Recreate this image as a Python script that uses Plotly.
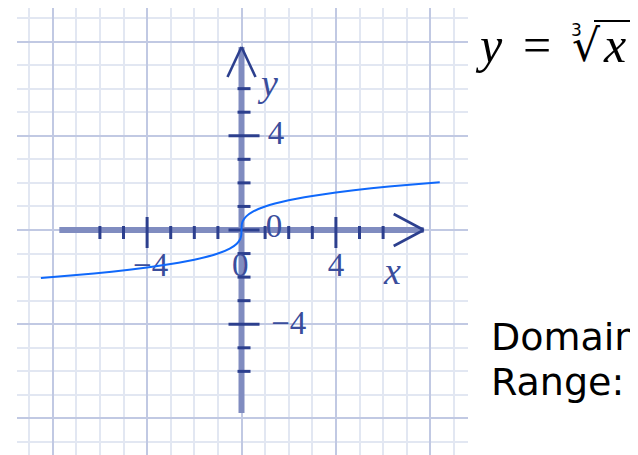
import plotly.graph_objects as go

# ---- data (y = cube root of x) ----
curve_x = [-8.5, -7.0, -5.5, -4.0, -3.0, -2.0, -1.0, -0.5, -0.2, -0.05, -0.01, 0.0,
           0.01, 0.05, 0.2, 0.5, 1.0, 2.0, 3.0, 4.0, 5.5, 7.0, 8.4]
curve_y = [-2.04, -1.91, -1.77, -1.59, -1.44, -1.26, -1.0, -0.79, -0.58, -0.37, -0.22, 0.0,
           0.22, 0.37, 0.58, 0.79, 1.0, 1.26, 1.44, 1.59, 1.77, 1.91, 2.03]

x_minor_ticks = [-6, -5, -3, -2, -1, 1, 2, 3, 5, 6]
x_major_ticks = [-4, 4]
y_minor_ticks = [-6, -5, -3, -2, -1, 1, 2, 3, 5, 6]
y_major_ticks = [-4, 0, 4]

# tick label texts (drawn beneath the curve, as in the picture)
tick_label_text = ["4", "−4", "0", "0", "4", "−4"]
tick_label_x = [1.46, 2.0, 1.38, -0.05, 4.0, -3.85]
tick_label_y = [4.0, -4.05, 0.05, -1.62, -1.62, -1.62]

side_texts = ["Domain:", "Range:"]

# ---- layout constants (page body has an 8px margin) ----
OFF = 8
W, H = 630, 447
L, R, T, B = 9, 170, 0, 0
PW, PH = W - L - R, H - T - B
XR = [-9.513, 9.597]
YR = [-9.55, 9.423]
AX_END = 7.72

MINOR_GRID = "rgb(226,231,242)"
MAJOR_GRID = "rgb(193,201,227)"
AXIS_COL = "#808cc0"
TICK_COL = "#2c3f8e"
LABEL_COL = "#3a4d9c"


def px_x(sx):
    return (sx - OFF - L) / PW


def px_y(sy):
    return (H + OFF - B - sy) / PH


fig = go.Figure()
fig.add_trace(go.Scatter(x=tick_label_x, y=tick_label_y, mode="text", text=tick_label_text,
                         textposition="middle center",
                         textfont=dict(family="Liberation Serif, serif", size=33, color=LABEL_COL),
                         hoverinfo="skip", showlegend=False))
fig.add_trace(go.Scatter(x=curve_x, y=curve_y, mode="lines",
                         line=dict(color="#0f68fb", width=2, shape="spline", smoothing=0.6),
                         hoverinfo="skip", showlegend=False))

shapes = []
# axes
shapes.append(dict(type="line", xref="x", yref="y", x0=-AX_END, x1=AX_END, y0=0, y1=0,
                   line=dict(color=AXIS_COL, width=6), layer="between"))
shapes.append(dict(type="line", xref="x", yref="y", x0=0, x1=0, y0=-AX_END - 0.05, y1=AX_END + 0.05,
                   line=dict(color=AXIS_COL, width=6), layer="between"))

# ticks (pixel-sized, anchored to axis values)
for t in x_minor_ticks:
    shapes.append(dict(type="line", xref="x", yref="y", x0=t, x1=t, ysizemode="pixel", yanchor=0,
                       y0=4, y1=-9, line=dict(color=TICK_COL, width=3), layer="between"))
for t in x_major_ticks:
    shapes.append(dict(type="line", xref="x", yref="y", x0=t, x1=t, ysizemode="pixel", yanchor=0,
                       y0=13, y1=-18, line=dict(color=TICK_COL, width=3), layer="between"))
for t in y_minor_ticks:
    shapes.append(dict(type="line", xref="x", yref="y", y0=t, y1=t, xsizemode="pixel", xanchor=0,
                       x0=-4, x1=9, line=dict(color=TICK_COL, width=3), layer="between"))
for t in y_major_ticks:
    shapes.append(dict(type="line", xref="x", yref="y", y0=t, y1=t, xsizemode="pixel", xanchor=0,
                       x0=-13, x1=18, line=dict(color=TICK_COL, width=3), layer="between"))

# arrowheads
for dy in (16, -16):
    shapes.append(dict(type="line", xref="x", yref="y", xsizemode="pixel", ysizemode="pixel",
                       xanchor=AX_END, yanchor=0, x0=0, y0=0, x1=-30, y1=dy,
                       line=dict(color=TICK_COL, width=2.6), layer="between"))
for dx in (14, -14):
    shapes.append(dict(type="line", xref="x", yref="y", xsizemode="pixel", ysizemode="pixel",
                       xanchor=0, yanchor=AX_END + 0.05, x0=0, y0=0, x1=dx, y1=-30,
                       line=dict(color=TICK_COL, width=2.6), layer="between"))

# vinculum of the radical
shapes.append(dict(type="line", xref="paper", yref="paper", x0=px_x(594), x1=px_x(632),
                   y0=px_y(21), y1=px_y(21), line=dict(color="black", width=2.2)))

ann = []
ital_font = dict(family="Liberation Serif, serif", size=38, color=LABEL_COL)
ann.append(dict(x=6.38, y=-1.72, text="<i>x</i>", xref="x", yref="y", showarrow=False, font=ital_font))
ann.append(dict(x=1.12, y=6.25, text="<i>y</i>", xref="x", yref="y", showarrow=False, font=ital_font))

# formula y = cube-root(x), assembled from text pieces
f_font = dict(family="Liberation Serif, serif", size=50, color="black")
ann.append(dict(x=px_x(489), y=px_y(45), xref="paper", yref="paper", text="<i>y</i>",
                showarrow=False, xanchor="center", yanchor="middle", font=f_font))
ann.append(dict(x=px_x(537), y=px_y(45), xref="paper", yref="paper", text="=",
                showarrow=False, xanchor="center", yanchor="middle", font=f_font))
ann.append(dict(x=px_x(586), y=px_y(45), xref="paper", yref="paper", text="√",
                showarrow=False, xanchor="center", yanchor="middle",
                font=dict(family="DejaVu Serif, serif", size=44, color="black")))
ann.append(dict(x=px_x(576), y=px_y(30), xref="paper", yref="paper", text="3",
                showarrow=False, xanchor="center", yanchor="middle",
                font=dict(family="DejaVu Sans, sans-serif", size=17, color="black")))
ann.append(dict(x=px_x(614), y=px_y(45), xref="paper", yref="paper", text="<i>x</i>",
                showarrow=False, xanchor="center", yanchor="middle", font=f_font))

side_font = dict(family="DejaVu Sans, sans-serif", size=38, color="black")
ann.append(dict(x=px_x(489), y=px_y(337), xref="paper", yref="paper", text=side_texts[0],
                showarrow=False, xanchor="left", yanchor="middle", font=side_font))
ann.append(dict(x=px_x(489), y=px_y(382), xref="paper", yref="paper", text=side_texts[1],
                showarrow=False, xanchor="left", yanchor="middle", font=side_font))

axis_common = dict(showline=False, zeroline=False, showticklabels=False, ticks="",
                   tick0=0, dtick=4, showgrid=True, gridcolor=MAJOR_GRID, gridwidth=2.3,
                   minor=dict(tick0=0, dtick=1, showgrid=True, gridcolor=MINOR_GRID, gridwidth=2.3),
                   fixedrange=True)

fig.update_layout(
    width=W, height=H,
    margin=dict(l=L, r=R, t=T, b=B, pad=0),
    paper_bgcolor="white", plot_bgcolor="white",
    xaxis=dict(range=XR, **axis_common),
    yaxis=dict(range=YR, **axis_common),
    shapes=shapes, annotations=ann, showlegend=False,
)

fig.write_html("out.html")
